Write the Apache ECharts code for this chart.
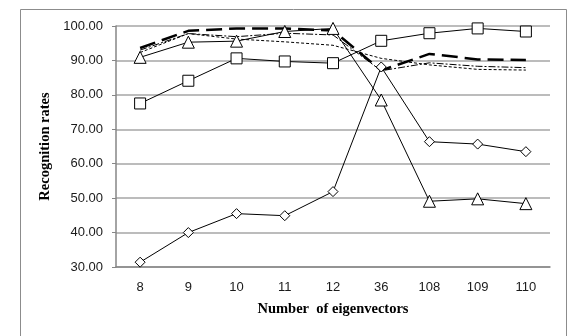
<!DOCTYPE html>
<html><head><meta charset="utf-8">
<script src="https://cdn.jsdelivr.net/npm/echarts@6/dist/echarts.min.js"></script>
<style>html,body{margin:0;padding:0;background:#fff}#c{width:572px;height:336px}</style>
</head><body><div id="c"></div>
<script>
var categories = ['8','9','10','11','12','36','108','109','110'];
var squareSeries   = [77.5, 84.1, 90.6, 89.7, 89.2, 95.7, 97.9, 99.3, 98.4];
var triangleSeries = [90.9, 95.3, 95.6, 98.4, 99.3, 78.5, 49.1, 49.8, 48.4];
var diamondSeries  = [31.4, 40.0, 45.5, 44.9, 51.9, 88.1, 66.4, 65.7, 63.5];
var thickDashSeries = [93.6, 98.6, 99.3, 99.3, 98.7, 87.1, 91.9, 90.3, 90.1];
var dashDotSeries   = [93.0, 97.8, 96.9, 97.9, 97.4, 87.0, 89.3, 88.3, 87.9];
var shortDashSeries = [92.3, 97.8, 96.2, 95.4, 94.4, 90.6, 88.7, 87.4, 87.2];
var yTicks = {min: 30, max: 100, interval: 10};

var chart = echarts.init(document.getElementById('c'), null, {renderer: 'canvas'});
function sym(name, data, symbol, size) {
  return {name: name, type: 'line', data: data, symbol: symbol, symbolSize: size,
    showAllSymbol: true,
    lineStyle: {color: '#000', width: 1}, itemStyle: {color: '#fff', borderColor: '#000', borderWidth: 1},
    emphasis: {disabled: true}, z: 3};
}
function plain(name, data, width, dash) {
  return {name: name, type: 'line', data: data, showSymbol: false, symbol: 'none',
    lineStyle: {color: '#000', width: width, type: dash}, emphasis: {disabled: true}, z: 2};
}
chart.setOption({
  animation: false,
  backgroundColor: '#fff',
  graphic: [{type: 'rect', shape: {x: 20.5, y: 9.5, width: 546, height: 340}, style: {fill: 'none', stroke: '#8c8c8c', lineWidth: 1}, silent: true}],
  grid: {left: 116, right: 22, top: 26, bottom: 69},
  xAxis: {type: 'category', data: categories, boundaryGap: true,
    name: 'Number  of eigenvectors', nameLocation: 'middle', nameGap: 35,
    nameTextStyle: {fontFamily: 'Liberation Serif', fontWeight: 'bold', fontSize: 14.5, color: '#000'},
    axisLine: {lineStyle: {color: '#868686', width: 1.5}},
    axisTick: {alignWithLabel: true, length: 3, inside: true, lineStyle: {color: '#868686'}},
    axisLabel: {fontFamily: 'Liberation Sans', fontSize: 13, color: '#1a1a1a', margin: 14},
    splitLine: {show: false}},
  yAxis: {type: 'value', min: yTicks.min, max: yTicks.max, interval: yTicks.interval,
    name: 'Recognition rates', nameLocation: 'middle', nameGap: 61, nameRotate: 90,
    nameTextStyle: {fontFamily: 'Liberation Serif', fontWeight: 'bold', fontSize: 14.5, color: '#000'},
    axisLine: {show: true, lineStyle: {color: '#868686', width: 1.5}},
    axisTick: {show: true, length: 4, lineStyle: {color: '#868686'}},
    axisLabel: {fontFamily: 'Liberation Sans', fontSize: 13, color: '#1a1a1a', margin: 13,
      formatter: function (v) { return v.toFixed(2); }},
    splitLine: {lineStyle: {color: '#a6a6a6', width: 1.5}}},
  series: [
    plain('shortDash', shortDashSeries, 1, [3, 2]),
    plain('dashDot', dashDotSeries, 1, [7, 2, 2, 2]),
    plain('thickDash', thickDashSeries, 2.5, [16, 7]),
    sym('square', squareSeries, 'rect', 11),
    sym('triangle', triangleSeries, 'triangle', 12),
    sym('diamond', diamondSeries, 'diamond', 10)
  ]
});
</script></body></html>
